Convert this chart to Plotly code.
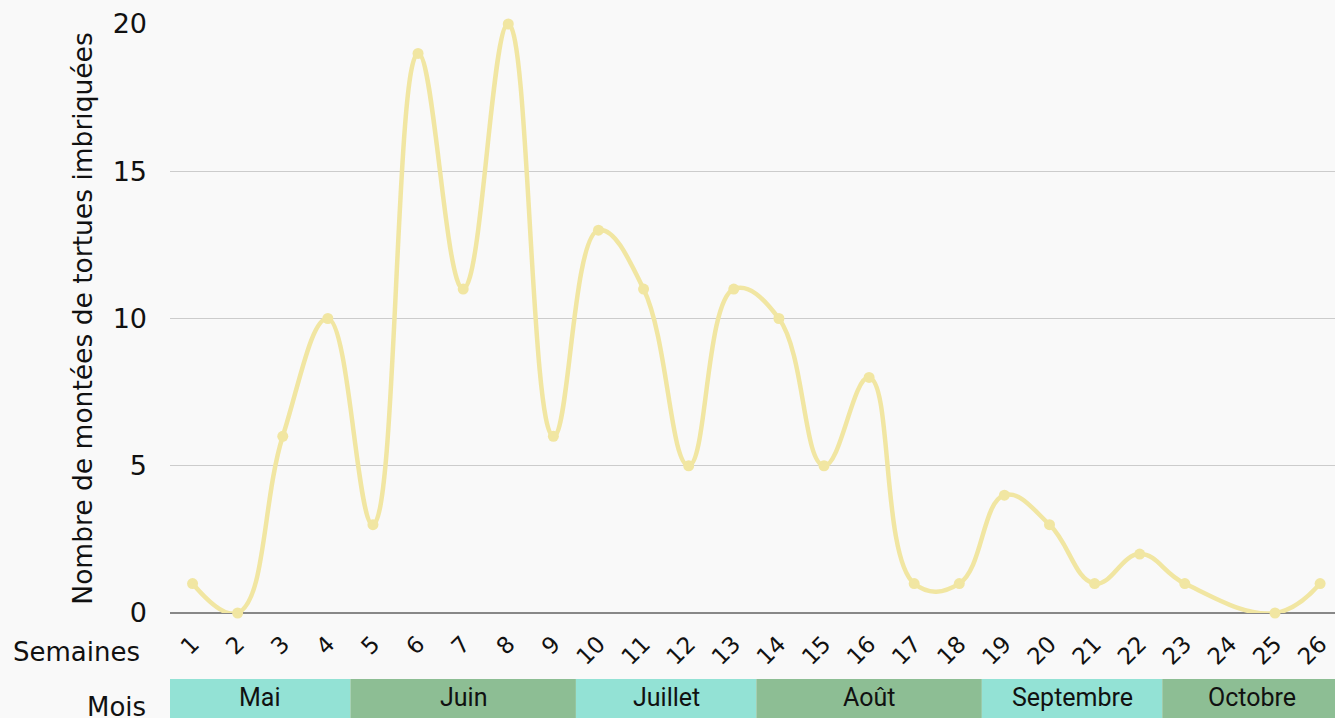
import plotly.graph_objects as go

weeks = list(range(1, 27))
week_labels = [str(w) for w in weeks]
montees = [1, 0, 6, 10, 3, 19, 11, 20, 6, 13, 11, 5, 11, 10, 5, 8, 1, 1, 4, 3, 1, 2, 1, None, 0, 1]

months = ["Mai", "Juin", "Juillet", "Août", "Septembre", "Octobre"]
month_start = [0.5, 4.5, 9.5, 13.5, 18.5, 22.5]
month_end = [4.5, 9.5, 13.5, 18.5, 22.5, 26.5]
month_colors = ["#93E2D5", "#8DBE94", "#93E2D5", "#8DBE94", "#93E2D5", "#8DBE94"]

tick_font = "DejaVu Sans"
band_font = "Roboto"

fig = go.Figure()
fig.add_trace(go.Scatter(
    x=weeks, y=montees, mode="lines+markers",
    line=dict(color="#F1E6A2", width=4.5, shape="spline", smoothing=1.2),
    marker=dict(color="#F1E6A2", size=11),
    connectgaps=True, cliponaxis=False, showlegend=False,
))

shapes = []
annotations = []
band_y0, band_y1 = -0.19, -0.112
for name, s, e, c in zip(months, month_start, month_end, month_colors):
    shapes.append(dict(type="rect", xref="x", yref="paper", x0=s, x1=e,
                       y0=band_y0, y1=band_y1, fillcolor=c, line=dict(width=0),
                       layer="below"))
    annotations.append(dict(x=(s + e) / 2, y=-0.144, xref="x", yref="paper",
                            text=name, showarrow=False, yanchor="middle",
                            font=dict(family=band_font, size=25, color="#111")))

annotations.append(dict(x=-0.024, y=-0.066, xref="paper", yref="paper", text="Semaines",
                        showarrow=False, xanchor="right", yanchor="middle",
                        font=dict(family=tick_font, size=26, color="#111")))
annotations.append(dict(x=-0.019, y=-0.16, xref="paper", yref="paper", text="Mois",
                        showarrow=False, xanchor="right", yanchor="middle",
                        font=dict(family=tick_font, size=26, color="#111")))

fig.update_layout(
    width=1335, height=718,
    margin=dict(l=170, r=0, t=24, b=105),
    paper_bgcolor="#F9F9F9", plot_bgcolor="#F9F9F9",
    shapes=shapes, annotations=annotations,
    xaxis=dict(range=[0.5, 26.33], tickmode="array", tickvals=weeks, ticktext=week_labels,
               tickangle=-45, showgrid=False, zeroline=False, showline=False,
               ticklabelstandoff=12,
               tickfont=dict(family=tick_font, size=23, color="#111"), ticks=""),
    yaxis=dict(range=[0, 20], tickvals=[0, 5, 10, 15, 20], showgrid=True,
               gridcolor="#CCCCCC", gridwidth=1, zeroline=True, zerolinecolor="#888888",
               zerolinewidth=2, ticks="", ticklabelstandoff=22,
               tickfont=dict(family=tick_font, size=27, color="#111"),
               title=dict(text="Nombre de montées de tortues imbriquées", standoff=12,
                          font=dict(family=tick_font, size=26.5, color="#111"))),
)

fig.write_html("out.html", config={"displayModeBar": False},
               post_script="document.body.style.margin='0';document.body.style.overflow='hidden';")
